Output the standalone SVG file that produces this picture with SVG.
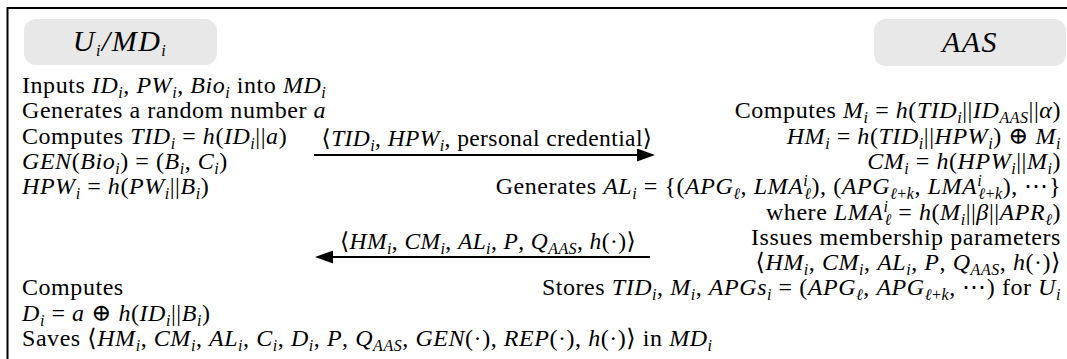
<svg xmlns="http://www.w3.org/2000/svg" width="1067" height="359" viewBox="0 0 1067 359">
<style>
.t{font-family:"Liberation Serif","DejaVu Serif",serif;font-size:24px;letter-spacing:0.55px;fill:#000}
.lbl{font-size:23.5px;letter-spacing:0.4px}
.h{font-family:"Liberation Serif","DejaVu Serif",serif;font-size:30px;letter-spacing:1.5px;font-style:italic;fill:#000}
.i{font-style:italic}
.s{font-size:16px}
.box{fill:#e8e8e8;stroke:none}
.frame{fill:none;stroke:#000;stroke-width:2}
.arr{stroke:#000;stroke-width:2;fill:none}
</style>
<defs>
<marker id="ah" markerUnits="userSpaceOnUse" markerWidth="18" markerHeight="13" refX="3" refY="6.5" orient="auto">
<path d="M0,0 L18,6.5 L0,13 z" fill="#000"/>
</marker>
</defs>
<rect width="1067" height="359" fill="#fff"/>
<path class="frame" d="M7.5,359 V8 H1067"/>

<g id="node-user">
<rect class="box" x="24" y="19" width="193" height="46" rx="12"/>
<text class="h" x="120" y="51" text-anchor="middle">U<tspan class="s" dy="5">i</tspan><tspan dy="-5">/MD</tspan><tspan class="s" dy="5">i</tspan></text>
</g>

<g id="node-aas">
<rect class="box" x="874" y="19" width="192" height="47" rx="12"/>
<text class="h" x="970" y="52" text-anchor="middle">AAS</text>
</g>

<g id="user-steps">
<text class="t" x="22" y="93">Inputs <tspan class="i">ID</tspan><tspan class="i s" dy="5">i</tspan><tspan dy="-5">, </tspan><tspan class="i">PW</tspan><tspan class="i s" dy="5">i</tspan><tspan dy="-5">, </tspan><tspan class="i">Bio</tspan><tspan class="i s" dy="5">i</tspan><tspan dy="-5"> into </tspan><tspan class="i">MD</tspan><tspan class="i s" dy="5">i</tspan></text>
<text class="t" x="22" y="118.3">Generates a random number <tspan class="i">a</tspan></text>
<text class="t" x="22" y="143.6">Computes <tspan class="i">TID</tspan><tspan class="i s" dy="5">i</tspan><tspan dy="-5"> = </tspan><tspan class="i">h</tspan>(<tspan class="i">ID</tspan><tspan class="i s" dy="5">i</tspan><tspan dy="-5">||</tspan><tspan class="i">a</tspan>)</text>
<text class="t" x="22" y="168.9"><tspan class="i">GEN</tspan>(<tspan class="i">Bio</tspan><tspan class="i s" dy="5">i</tspan><tspan dy="-5">) = (</tspan><tspan class="i">B</tspan><tspan class="i s" dy="5">i</tspan><tspan dy="-5">, </tspan><tspan class="i">C</tspan><tspan class="i s" dy="5">i</tspan><tspan dy="-5">)</tspan></text>
<text class="t" x="22" y="194.2"><tspan class="i">HPW</tspan><tspan class="i s" dy="5">i</tspan><tspan dy="-5"> = </tspan><tspan class="i">h</tspan>(<tspan class="i">PW</tspan><tspan class="i s" dy="5">i</tspan><tspan dy="-5">||</tspan><tspan class="i">B</tspan><tspan class="i s" dy="5">i</tspan><tspan dy="-5">)</tspan></text>
<text class="t" x="22" y="295.4">Computes</text>
<text class="t" x="22" y="320.7"><tspan class="i">D</tspan><tspan class="i s" dy="5">i</tspan><tspan dy="-5"> = </tspan><tspan class="i">a</tspan> ⊕ <tspan class="i">h</tspan>(<tspan class="i">ID</tspan><tspan class="i s" dy="5">i</tspan><tspan dy="-5">||</tspan><tspan class="i">B</tspan><tspan class="i s" dy="5">i</tspan><tspan dy="-5">)</tspan></text>
<text class="t" x="22" y="346">Saves ⟨<tspan class="i">HM</tspan><tspan class="i s" dy="5">i</tspan><tspan dy="-5">, </tspan><tspan class="i">CM</tspan><tspan class="i s" dy="5">i</tspan><tspan dy="-5">, </tspan><tspan class="i">AL</tspan><tspan class="i s" dy="5">i</tspan><tspan dy="-5">, </tspan><tspan class="i">C</tspan><tspan class="i s" dy="5">i</tspan><tspan dy="-5">, </tspan><tspan class="i">D</tspan><tspan class="i s" dy="5">i</tspan><tspan dy="-5">, </tspan><tspan class="i">P</tspan>, <tspan class="i">Q</tspan><tspan class="i s" dy="5">AAS</tspan><tspan dy="-5">, </tspan><tspan class="i">GEN</tspan>(·), <tspan class="i">REP</tspan>(·), <tspan class="i">h</tspan>(·)⟩ in <tspan class="i">MD</tspan><tspan class="i s" dy="5">i</tspan></text>
</g>

<g id="aas-steps">
<text class="t" x="1061" y="118.3" text-anchor="end">Computes <tspan class="i">M</tspan><tspan class="i s" dy="5">i</tspan><tspan dy="-5"> = </tspan><tspan class="i">h</tspan>(<tspan class="i">TID</tspan><tspan class="i s" dy="5">i</tspan><tspan dy="-5">||</tspan><tspan class="i">ID</tspan><tspan class="i s" dy="5">AAS</tspan><tspan dy="-5">||</tspan><tspan class="i">α</tspan>)</text>
<text class="t" x="1061" y="143.6" text-anchor="end"><tspan class="i">HM</tspan><tspan class="i s" dy="5">i</tspan><tspan dy="-5"> = </tspan><tspan class="i">h</tspan>(<tspan class="i">TID</tspan><tspan class="i s" dy="5">i</tspan><tspan dy="-5">||</tspan><tspan class="i">HPW</tspan><tspan class="i s" dy="5">i</tspan><tspan dy="-5">) ⊕ </tspan><tspan class="i">M</tspan><tspan class="i s" dy="5">i</tspan></text>
<text class="t" x="1061" y="168.9" text-anchor="end"><tspan class="i">CM</tspan><tspan class="i s" dy="5">i</tspan><tspan dy="-5"> = </tspan><tspan class="i">h</tspan>(<tspan class="i">HPW</tspan><tspan class="i s" dy="5">i</tspan><tspan dy="-5">||</tspan><tspan class="i">M</tspan><tspan class="i s" dy="5">i</tspan><tspan dy="-5">)</tspan></text>
<text class="t" x="1061" y="194.2" text-anchor="end">Generates <tspan class="i">AL</tspan><tspan class="i s" dy="5">i</tspan><tspan dy="-5"> = {(</tspan><tspan class="i">APG</tspan><tspan class="i s" dy="5">ℓ</tspan><tspan dy="-5">, </tspan><tspan class="i">LMA</tspan><tspan class="i s" dy="-8">i</tspan><tspan class="i s" dx="-4" dy="13">ℓ</tspan><tspan dy="-5">), (</tspan><tspan class="i">APG</tspan><tspan class="i s" dy="5">ℓ</tspan><tspan class="s">+</tspan><tspan class="i s">k</tspan><tspan dy="-5">, </tspan><tspan class="i">LMA</tspan><tspan class="i s" dy="-8">i</tspan><tspan class="i s" dx="-4" dy="13">ℓ</tspan><tspan class="s">+</tspan><tspan class="i s">k</tspan><tspan dy="-5">), ⋯}</tspan></text>
<text class="t" x="1061" y="219.5" text-anchor="end">where <tspan class="i">LMA</tspan><tspan class="i s" dy="-8">i</tspan><tspan class="i s" dx="-4" dy="13">ℓ</tspan><tspan dy="-5"> = </tspan><tspan class="i">h</tspan>(<tspan class="i">M</tspan><tspan class="i s" dy="5">i</tspan><tspan dy="-5">||</tspan><tspan class="i">β</tspan>||<tspan class="i">APR</tspan><tspan class="i s" dy="5">ℓ</tspan><tspan dy="-5">)</tspan></text>
<text class="t" x="1061" y="244.8" text-anchor="end">Issues membership parameters</text>
<text class="t" x="1061" y="270.1" text-anchor="end">⟨<tspan class="i">HM</tspan><tspan class="i s" dy="5">i</tspan><tspan dy="-5">, </tspan><tspan class="i">CM</tspan><tspan class="i s" dy="5">i</tspan><tspan dy="-5">, </tspan><tspan class="i">AL</tspan><tspan class="i s" dy="5">i</tspan><tspan dy="-5">, </tspan><tspan class="i">P</tspan>, <tspan class="i">Q</tspan><tspan class="i s" dy="5">AAS</tspan><tspan dy="-5">, </tspan><tspan class="i">h</tspan>(·)⟩</text>
<text class="t" x="1061" y="295.4" text-anchor="end">Stores <tspan class="i">TID</tspan><tspan class="i s" dy="5">i</tspan><tspan dy="-5">, </tspan><tspan class="i">M</tspan><tspan class="i s" dy="5">i</tspan><tspan dy="-5">, </tspan><tspan class="i">APGs</tspan><tspan class="i s" dy="5">i</tspan><tspan dy="-5"> = (</tspan><tspan class="i">APG</tspan><tspan class="i s" dy="5">ℓ</tspan><tspan dy="-5">, </tspan><tspan class="i">APG</tspan><tspan class="i s" dy="5">ℓ</tspan><tspan class="s">+</tspan><tspan class="i s">k</tspan><tspan dy="-5">, ⋯) for </tspan><tspan class="i">U</tspan><tspan class="i s" dy="5">i</tspan></text>
</g>

<g id="connectors">
<line class="arr" x1="314" y1="155" x2="640" y2="155" marker-end="url(#ah)"/>
<line class="arr" x1="650" y1="257" x2="330" y2="257" marker-end="url(#ah)"/>
</g>

<g id="connector-labels">
<text class="t lbl" x="487" y="146" text-anchor="middle">⟨<tspan class="i">TID</tspan><tspan class="i s" dy="5">i</tspan><tspan dy="-5">, </tspan><tspan class="i">HPW</tspan><tspan class="i s" dy="5">i</tspan><tspan dy="-5">, personal credential⟩</tspan></text>
<text class="t lbl" x="488" y="249" text-anchor="middle">⟨<tspan class="i">HM</tspan><tspan class="i s" dy="5">i</tspan><tspan dy="-5">, </tspan><tspan class="i">CM</tspan><tspan class="i s" dy="5">i</tspan><tspan dy="-5">, </tspan><tspan class="i">AL</tspan><tspan class="i s" dy="5">i</tspan><tspan dy="-5">, </tspan><tspan class="i">P</tspan>, <tspan class="i">Q</tspan><tspan class="i s" dy="5">AAS</tspan><tspan dy="-5">, </tspan><tspan class="i">h</tspan>(·)⟩</text>
</g>
</svg>
